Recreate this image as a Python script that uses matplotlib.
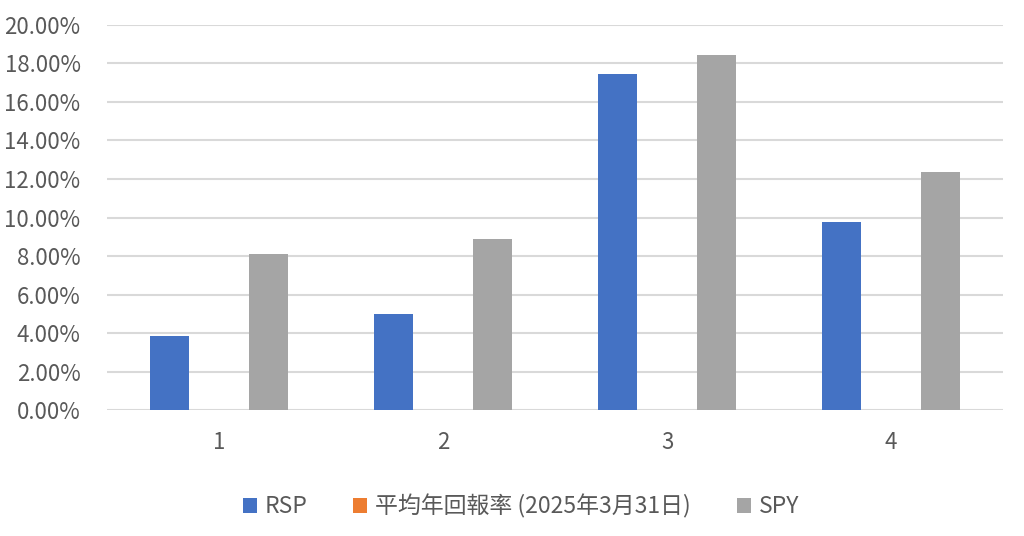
import matplotlib
matplotlib.use('Agg')
import matplotlib.pyplot as plt
import numpy as np
from matplotlib.ticker import PercentFormatter

plt.rcParams['font.family'] = ['Noto Sans CJK TC', 'DejaVu Sans']

categories = ['1', '2', '3', '4']
series_names = ['RSP', '平均年回報率 (2025年3月31日)', 'SPY']
rsp = [3.85, 5.00, 17.47, 9.75]
avg_return = [0, 0, 0, 0]
spy = [8.12, 8.90, 18.45, 12.35]
colors = ['#4472C4', '#ED7D31', '#A5A5A5']

fig = plt.figure(figsize=(10.24, 5.36), dpi=100)
ax = fig.add_axes([0.1045, 0.235, 0.875, 0.7184])

x = np.arange(len(categories))
offset = 0.223
width = 0.174
for k, (vals, name, c) in enumerate(zip([rsp, avg_return, spy], series_names, colors)):
    ax.bar(x + (k - 1) * offset, vals, width, color=c, label=name, zorder=3)

ax.set_xlim(-0.5, len(categories) - 0.5)
ax.set_ylim(0, 20)
ax.set_yticks(np.arange(0, 20.1, 2))
ax.yaxis.set_major_formatter(PercentFormatter(decimals=2))
ax.set_xticks(x)
ax.set_xticklabels(categories)
ax.grid(axis='y', color='#D9D9D9', linewidth=1.5, zorder=0)
for s in ax.spines.values():
    s.set_visible(False)
ax.tick_params(axis='both', length=0, labelsize=16, labelcolor='#595959')
ax.tick_params(axis='y', pad=19)
ax.tick_params(axis='x', pad=15)

leg = ax.legend(loc='upper center', bbox_to_anchor=(0.462, -0.165), ncol=3,
                frameon=False, fontsize=16.5, handlelength=0.6, handleheight=0.6,
                handletextpad=0.35, columnspacing=2.0)
for t in leg.get_texts():
    t.set_color('#595959')

fig.savefig('out.png', dpi=100)
